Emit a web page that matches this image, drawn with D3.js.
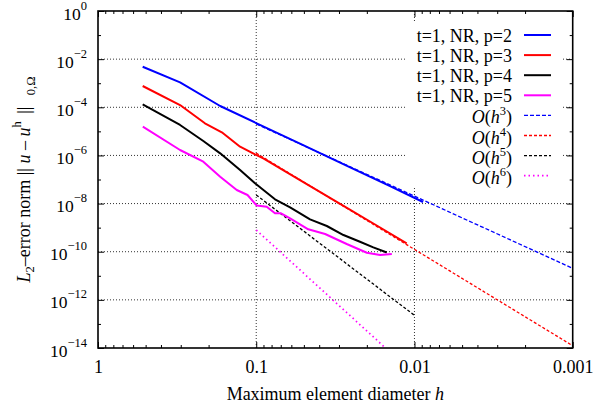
<!DOCTYPE html>
<html>
<head>
<meta charset="utf-8">
<script src="https://cdn.jsdelivr.net/npm/d3@7"></script>
<style>
body { margin: 0; background: #fff; }
svg text { font-family: "Liberation Serif", "Times New Roman", Times, serif; fill: #000; }
</style>
</head>
<body>
<div id="chart"></div>
<script>
// max element diameter h and L2 error
const hP2 = [0.522, 0.303, 0.169, 0.0993, 0.0529, 0.0255, 0.01427, 0.00883];
const errP2 = [4.85e-3, 1.09e-3, 1.13e-4, 2.16e-5, 3.07e-6, 3.21e-7, 5.26e-8, 1.16e-8];

const hP3 = [0.522, 0.303, 0.211, 0.165, 0.1265, 0.1018, 0.0902, 0.0529, 0.0295, 0.01775, 0.0112];
const errP3 = [7.66e-4, 1.24e-4, 2.16e-5, 9.14e-6, 2.30e-6, 1.11e-6, 7.59e-7, 9.44e-8, 9.77e-9, 1.35e-9, 2.23e-10];

const hP4 = [0.522, 0.303, 0.216, 0.169, 0.1265, 0.1018, 0.0761, 0.0611, 0.0457, 0.0358, 0.0281, 0.0221, 0.0182, 0.01496];
const errP4 = [1.33e-4, 1.84e-5, 3.97e-6, 1.22e-6, 2.48e-7, 6.95e-8, 1.50e-8, 7.00e-9, 2.22e-9, 1.17e-9, 4.94e-10, 2.60e-10, 1.52e-10, 9.27e-11];

const hP5 = [0.521, 0.303, 0.216, 0.169, 0.1328, 0.1135, 0.0993, 0.0859, 0.0761, 0.0697, 0.0611, 0.0469, 0.0367, 0.0268, 0.0200, 0.0165, 0.0139];
const errP5 = [1.56e-5, 1.68e-6, 5.48e-7, 1.31e-7, 3.66e-8, 2.27e-8, 8.30e-9, 7.40e-9, 3.94e-9, 3.94e-9, 2.44e-9, 8.53e-10, 5.43e-10, 2.09e-10, 9.08e-11, 7.29e-11, 8.02e-11];

// reference slopes O(h^k): end points
const refOrder = [3, 4, 5, 6];
const refH = [[0.1, 0.001], [0.1, 0.001], [0.1, 0.01], [0.1, 0.01]];
const refErr = [[2.04e-5, 2.04e-11], [1.245e-6, 1.245e-14], [2.27e-8, 2.27e-13], [7.98e-10, 7.98e-16]];

const seriesLabels = ["t=1, NR, p=2", "t=1, NR, p=3", "t=1, NR, p=4", "t=1, NR, p=5"];
const colors = ["#0000ff", "#ff0000", "#000000", "#ff00ff"];
const refDash = ["4,2", "3,2", "3,2", "1.5,3"];

const xTicks = [1, 0.1, 0.01, 0.001];
const xTickLabels = ["1", "0.1", "0.01", "0.001"];
const yTickExp = [0, -2, -4, -6, -8, -10, -12, -14];

const FONT = '"Liberation Serif", "Times New Roman", Times, serif';
const W = 608, H = 414;
const L = 98, R = 572.7, T = 11, B = 348;

const x = d3.scaleLog().domain([1, 0.001]).range([L, R]);
const y = d3.scaleLog().domain([1, 1e-14]).range([T, B]);

const svg = d3.select("#chart").append("svg").attr("width", W).attr("height", H)
  .attr("font-family", FONT);

svg.append("clipPath").attr("id", "clip")
  .append("rect").attr("x", L).attr("y", T).attr("width", R - L).attr("height", B - T);

// minor tick positions
const xMinor = [];
[1, 0.1, 0.01].forEach(d => { for (let k = 2; k <= 9; k++) xMinor.push(k * d / 10); });
const yMajor = yTickExp.map(e => Math.pow(10, e));
const yMinor = d3.range(-1, -14, -2).map(e => Math.pow(10, e));

// grid
const grid = svg.append("g").attr("stroke", "#333").attr("stroke-width", 1).attr("stroke-dasharray", "1,2");
grid.selectAll(".gh").data(yMajor.slice(1, -1)).enter().append("line")
  .attr("x1", L).attr("x2", R).attr("y1", d => y(d)).attr("y2", d => y(d));
grid.selectAll(".gv").data([0.1, 0.01]).enter().append("line")
  .attr("y1", T).attr("y2", B).attr("x1", d => x(d)).attr("x2", d => x(d));

// axes (ticks inward)
function ticks(axis, tr, vals, size) {
  const g = svg.append("g").attr("transform", tr)
    .call(axis.tickValues(vals).tickSize(size).tickFormat(""));
  g.attr("font-family", FONT);
  g.select(".domain").remove();
  g.selectAll("line").attr("stroke", "#000").attr("stroke-width", 1);
  return g;
}
ticks(d3.axisBottom(x), `translate(0,${B})`, xMinor, -3);
ticks(d3.axisTop(x), `translate(0,${T})`, xMinor, -3);
ticks(d3.axisTop(x), `translate(0,${T})`, xTicks, -6);
ticks(d3.axisLeft(y), `translate(${L},0)`, yMinor, -3);
ticks(d3.axisRight(y), `translate(${R},0)`, yMinor, -3);
ticks(d3.axisRight(y), `translate(${R},0)`, yMajor, -6);

const gx = ticks(d3.axisBottom(x), `translate(0,${B})`, xTicks, -6);
gx.selectAll(".tick text")
  .attr("y", 25).attr("dy", 0)
  .attr("font-size", 18)
  .text((d, i) => xTickLabels[i]);

const gy = ticks(d3.axisLeft(y), `translate(${L},0)`, yMajor, -6);
gy.selectAll(".tick text").each(function (d, i) {
  const t = d3.select(this).attr("x", -11).attr("dy", 8).attr("font-size", 17.5).text(null);
  t.append("tspan").text("10");
  t.append("tspan").attr("dy", -10).attr("font-size", 12.5)
    .text(yTickExp[i] === 0 ? "0" : "\u2212" + Math.abs(yTickExp[i]));
});

// data
const line = d3.line().x(d => x(d[0])).y(d => y(d[1]));
const plot = svg.append("g").attr("clip-path", "url(#clip)");

refOrder.forEach((k, i) => {
  plot.append("path")
    .attr("d", line(d3.zip(refH[i], refErr[i])))
    .attr("fill", "none").attr("stroke", colors[i])
    .attr("stroke-width", i === 3 ? 1.7 : 1.3)
    .attr("stroke-dasharray", refDash[i]);
});

const series = [[hP2, errP2], [hP3, errP3], [hP4, errP4], [hP5, errP5]];
series.forEach((s, i) => {
  plot.append("path")
    .attr("d", line(d3.zip(s[0], s[1])))
    .attr("fill", "none").attr("stroke", colors[i])
    .attr("stroke-width", 2).attr("stroke-linejoin", "round");
});

// border
svg.append("rect").attr("x", L).attr("y", T).attr("width", R - L).attr("height", B - T)
  .attr("fill", "none").attr("stroke", "#000").attr("stroke-width", 1.6);

// legend (opaque box)
const lg = svg.append("g");
lg.append("rect").attr("x", 407).attr("y", 21).attr("width", 155).attr("height", 167).attr("fill", "#fff");
seriesLabels.forEach((lab, i) => {
  const yy = 35 + i * 20.1;
  lg.append("text").attr("x", 512).attr("y", yy + 6.5).attr("text-anchor", "end")
    .attr("font-size", 18).text(lab);
  lg.append("line").attr("x1", 524).attr("x2", 551).attr("y1", yy).attr("y2", yy)
    .attr("stroke", colors[i]).attr("stroke-width", 2);
});
refOrder.forEach((k, i) => {
  const yy = 35 + (i + 4) * 20.1;
  const t = lg.append("text").attr("x", 512).attr("y", yy + 8).attr("text-anchor", "end")
    .attr("font-size", 18);
  t.append("tspan").attr("font-style", "italic").text("O");
  t.append("tspan").text("(");
  t.append("tspan").attr("font-style", "italic").text("h");
  t.append("tspan").attr("dy", -8).attr("font-size", 12.5).text(k);
  t.append("tspan").attr("dy", 8).text(")");
  lg.append("line").attr("x1", 524).attr("x2", 551).attr("y1", yy).attr("y2", yy)
    .attr("stroke", colors[i]).attr("stroke-width", i === 3 ? 1.7 : 1.3)
    .attr("stroke-dasharray", refDash[i]);
});

// axis titles
const xl = svg.append("text").attr("x", (L + R) / 2).attr("y", 400)
  .attr("text-anchor", "middle").attr("font-size", 18);
xl.append("tspan").text("Maximum element diameter ");
xl.append("tspan").attr("font-style", "italic").text("h");

const yl = svg.append("text")
  .attr("transform", `translate(29.5,${(T + B) / 2}) rotate(-90)`)
  .attr("text-anchor", "middle").attr("font-size", 18);
yl.append("tspan").attr("font-style", "italic").text("L");
yl.append("tspan").attr("dy", 4).attr("font-size", 12.5).text("2");
yl.append("tspan").attr("dy", -4).text("\u2013error norm || ");
yl.append("tspan").attr("font-style", "italic").text("u");
yl.append("tspan").text(" \u2013 ");
yl.append("tspan").attr("font-style", "italic").text("u");
yl.append("tspan").attr("dy", -9).attr("font-size", 12.5).text("h");
yl.append("tspan").attr("dy", 9).attr("dx", 3).text(" || ");
yl.append("tspan").attr("dy", 5).attr("dx", 7).attr("font-size", 12.5).text("0,\u03a9");
</script>
</body>
</html>
